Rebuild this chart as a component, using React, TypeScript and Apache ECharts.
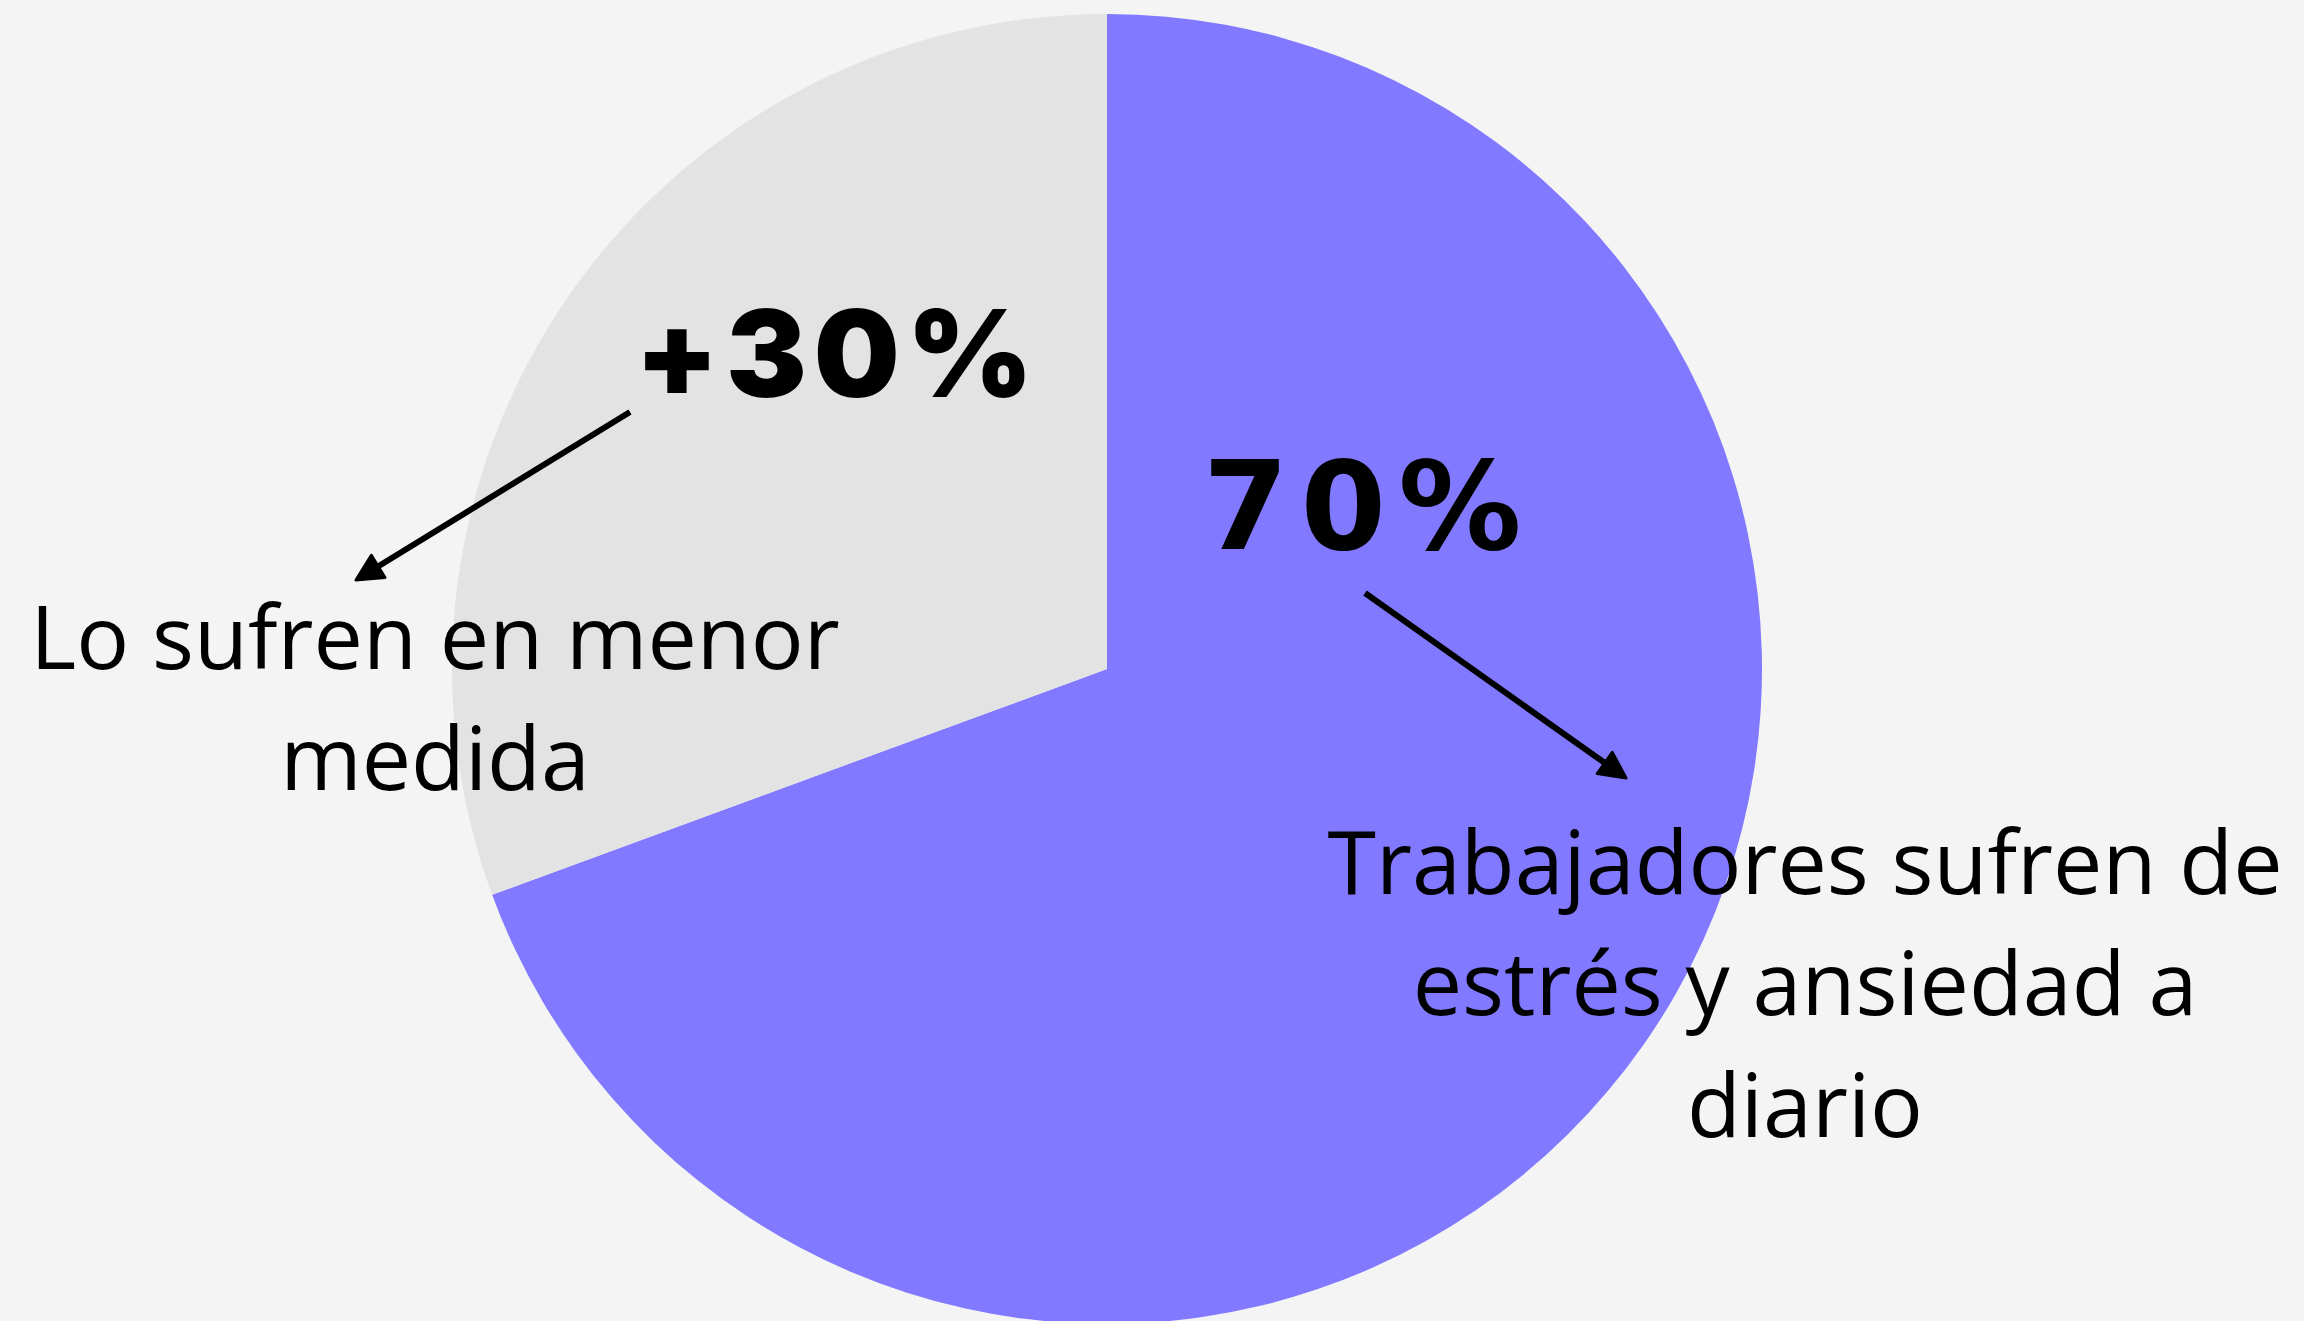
import React, { useEffect, useRef } from "react";
import * as echarts from "echarts";

const categories = ["Trabajadores sufren de estrés y ansiedad a diario", "Lo sufren en menor medida"];
const values = [69.4, 30.6];
const colors = ["#8179FF", "#E3E3E3"];
const bigLabels = ["70%", "+30%"];
const labelLines = [
  ["Trabajadores sufren de", "estrés y ansiedad a", "diario"],
  ["Lo sufren en menor", "medida"],
];

function arrow(x1: number, y1: number, x2: number, y2: number) {
  const dx = x2 - x1, dy = y2 - y1;
  const len = Math.sqrt(dx * dx + dy * dy);
  const ux = dx / len, uy = dy / len;
  const nx = -uy, ny = ux;
  const L = 26, W = 26;
  const bx = x2 - ux * L, by = y2 - uy * L;
  return [
    {
      type: "line",
      shape: { x1, y1, x2: x2 - ux * (L - 4), y2: y2 - uy * (L - 4) },
      style: { stroke: "#000", lineWidth: 6 },
      z: 10,
    },
    {
      type: "polygon",
      shape: {
        points: [
          [x2, y2],
          [bx + nx * W / 2, by + ny * W / 2],
          [bx - nx * W / 2, by - ny * W / 2],
        ],
      },
      style: { fill: "#000", stroke: "#000", lineWidth: 3, lineJoin: "round" },
      z: 10,
    },
  ];
}

function spaced(text: string, x: number, y: number, font: string, spacing: number) {
  const cv = document.createElement("canvas");
  const ctx = cv.getContext("2d")!;
  ctx.font = font;
  const out: any[] = [];
  let cx = x;
  for (const ch of text) {
    out.push({
      type: "text",
      x: cx,
      y,
      style: { text: ch, font, fill: "#000", align: "left", verticalAlign: "middle" },
      z: 10,
    });
    cx += ctx.measureText(ch).width + spacing;
  }
  return out;
}

export default function App() {
  const ref = useRef<HTMLDivElement>(null);
  useEffect(() => {
    document.body.style.margin = "0";
    const chart = echarts.init(ref.current!, null, { renderer: "svg" });
    const graphics: any[] = [];
    graphics.push(...spaced(bigLabels[0], 1203, 506, "bold 123px 'DejaVu Sans'", 12));
    graphics.push(...spaced(bigLabels[1], 635, 353, "900 121px Inter", 7));
    const labelFont = "88px 'Open Sans'";
    const rightCenters = [860, 981, 1103];
    labelLines[0].forEach((t, i) => {
      graphics.push({
        type: "text",
        x: 1805,
        y: rightCenters[i],
        style: { text: t, font: labelFont, fill: "#000", align: "center", verticalAlign: "middle" },
        z: 10,
      });
    });
    const leftCenters = [635, 756];
    labelLines[1].forEach((t, i) => {
      graphics.push({
        type: "text",
        x: 435,
        y: leftCenters[i],
        style: { text: t, font: labelFont, fill: "#000", align: "center", verticalAlign: "middle" },
        z: 10,
      });
    });
    graphics.push(...arrow(1365, 593, 1626, 778));
    graphics.push(...arrow(630, 412, 356, 580));

    chart.setOption({
      animation: false,
      backgroundColor: "#F4F4F4",
      series: [
        {
          type: "pie",
          center: [1107, 669],
          radius: 655,
          startAngle: 90,
          clockwise: true,
          label: { show: false },
          labelLine: { show: false },
          emphasis: { disabled: true },
          itemStyle: { borderWidth: 0 },
          data: categories.map((c, i) => ({
            name: c,
            value: values[i],
            itemStyle: { color: colors[i] },
          })),
        },
      ],
      graphic: graphics,
    });
    return () => chart.dispose();
  }, []);
  return (
    <div
      ref={ref}
      style={{ position: "fixed", left: 0, top: 0, width: 2304, height: 1321 }}
    />
  );
}
